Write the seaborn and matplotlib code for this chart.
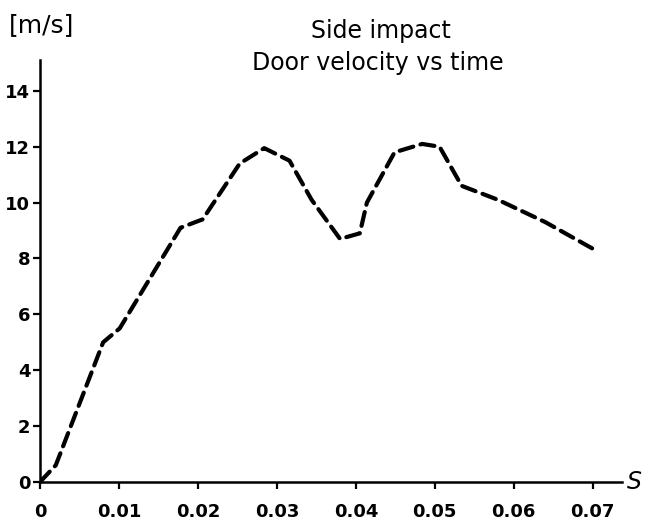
import matplotlib
matplotlib.use("Agg")
import matplotlib.pyplot as plt
import seaborn as sns
import pandas as pd

# ── data ────────────────────────────────────────────────────────────────────
time_s = [0.0, 0.002, 0.008, 0.0101, 0.0178, 0.0206, 0.0253, 0.0284, 0.0316,
          0.0344, 0.0380, 0.0405, 0.0414, 0.0449, 0.0484, 0.0506, 0.0534,
          0.0580, 0.0640, 0.0700]
velocity = [0.0, 0.6, 5.0, 5.5, 9.1, 9.4, 11.4, 11.95, 11.5,
            10.1, 8.7, 8.9, 10.0, 11.8, 12.1, 12.0, 10.6,
            10.1, 9.3, 8.35]
x_ticks = [0, 0.01, 0.02, 0.03, 0.04, 0.05, 0.06, 0.07]
x_labels = ["0", "0.01", "0.02", "0.03", "0.04", "0.05", "0.06", "0.07"]
y_ticks = [0, 2, 4, 6, 8, 10, 12, 14]

df = pd.DataFrame({"t": time_s, "v": velocity})

sns.set_style("ticks")
plt.rcParams["font.family"] = ["DejaVu Sans"]
plt.rcParams["text.color"] = "black"

fig = plt.figure(figsize=(6.51, 5.32), dpi=100)
ax = fig.add_axes([0.0614, 0.094, 0.8940, 0.793])

sns.lineplot(data=df, x="t", y="v", ax=ax, color="black", linewidth=3,
             estimator=None, sort=False)
ax.lines[0].set_dashes([3.4, 1.8])
ax.lines[0].set_dash_capstyle("round")

ax.set_xlim(0, 0.0737)
ax.set_ylim(0, 15.1)
ax.set_xticks(x_ticks)
ax.set_xticklabels(x_labels)
ax.set_yticks(y_ticks)
ax.set_xlabel("")
ax.set_ylabel("")

for side in ["top", "right"]:
    ax.spines[side].set_visible(False)
for side in ["left", "bottom"]:
    ax.spines[side].set_linewidth(1.8)
    ax.spines[side].set_color("black")

ax.tick_params(axis="both", colors="black", labelsize=13, width=1.6, length=5)
ax.tick_params(axis="x", pad=10)
ax.tick_params(axis="y", pad=2)
for lab in ax.get_xticklabels() + ax.get_yticklabels():
    lab.set_fontweight("bold")

fig.text(0.585, 0.965, "Side impact", ha="center", va="top", fontsize=17,
         color="black")
fig.text(0.58, 0.905, "Door velocity vs time", ha="center", va="top",
         fontsize=17, color="black")
fig.text(0.014, 0.975, "[m/s]", ha="left", va="top", fontsize=18,
         color="black")
fig.text(0.975, 0.094, "S", ha="center", va="center", fontsize=17,
         style="italic", color="black")

fig.savefig("out.png", dpi=100, facecolor="white")
